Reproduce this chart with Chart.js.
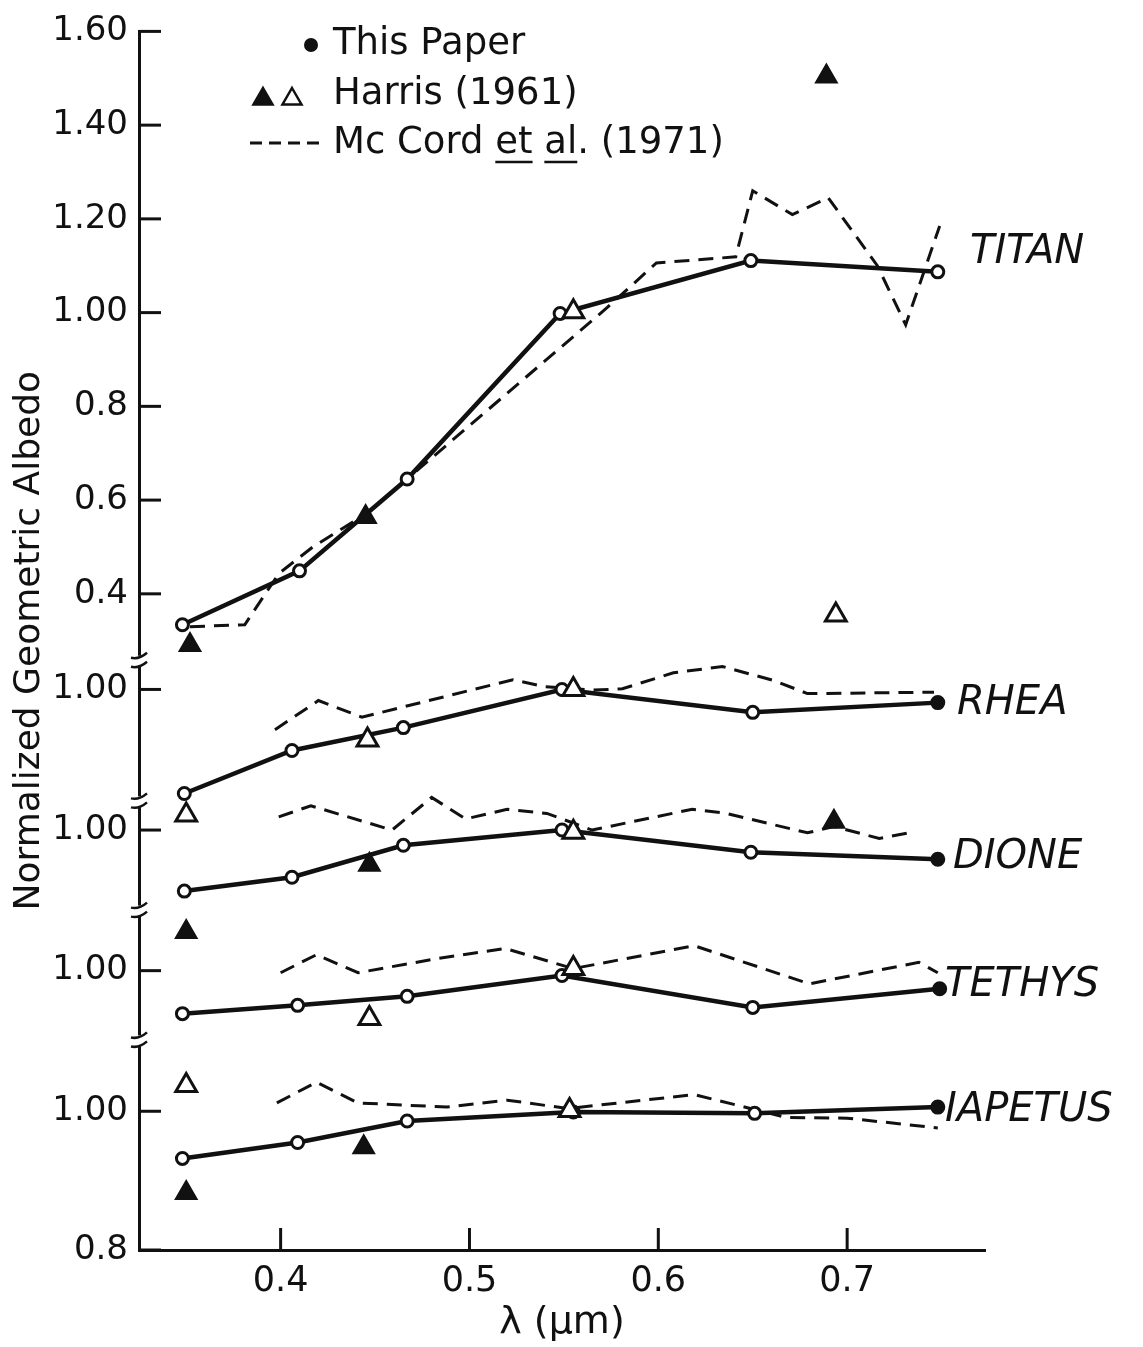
<!DOCTYPE html>
<html>
<head>
<meta charset="utf-8">
<title>Normalized geometric albedo of Saturn's satellites</title>
<script src="https://cdn.jsdelivr.net/npm/chart.js@4.4.1/dist/chart.umd.min.js"></script>
<style>
  html, body { margin: 0; padding: 0; background: #fff; }
</style>
</head>
<body>
<canvas id="albedoChart" width="1143" height="1347"></canvas>
<script>
const FONT = "'DejaVu Sans', sans-serif";
const INK = '#111';

// axis ticks
const xTicks = [0.4, 0.5, 0.6, 0.7];
const titanTicks = [1.6, 1.4, 1.2, 1.0, 0.8, 0.6, 0.4];
const titanTickLabels = ['1.60', '1.40', '1.20', '1.00', '0.8', '0.6', '0.4'];

// [wavelength (µm), normalized geometric albedo]
const titanPaper = [[0.348, 0.334], [0.410, 0.449], [0.467, 0.645], [0.548, 0.998], [0.649, 1.111], [0.748, 1.087]];
const titanMcCord = [[0.352, 0.330], [0.381, 0.334], [0.399, 0.443], [0.417, 0.500], [0.445, 0.570], [0.467, 0.645],
    [0.573, 1.011], [0.599, 1.106], [0.641, 1.119], [0.650, 1.260], [0.671, 1.209], [0.690, 1.245],
    [0.716, 1.100], [0.731, 0.974], [0.749, 1.185]];
const titanHarrisFilled = [[0.352, 0.291], [0.445, 0.564], [0.689, 1.504]];
const titanHarrisOpen = [[0.555, 1.002], [0.694, 0.355]];

const rheaPaper = [[0.349, 0.850], [0.406, 0.912], [0.465, 0.945], [0.549, 1.000], [0.650, 0.967], [0.748, 0.981]];
const rheaMcCord = [[0.397, 0.942], [0.420, 0.984], [0.443, 0.960], [0.523, 1.014], [0.540, 1.004], [0.565, 0.999],
    [0.581, 1.001], [0.608, 1.024], [0.634, 1.033], [0.661, 1.013], [0.679, 0.994], [0.746, 0.996]];
const rheaHarrisFilled = [];
const rheaHarrisOpen = [[0.350, 0.819], [0.446, 0.927], [0.555, 1.000]];

const dionePaper = [[0.349, 0.912], [0.406, 0.932], [0.465, 0.978], [0.549, 1.000], [0.649, 0.968], [0.748, 0.958]];
const dioneMcCord = [[0.399, 1.019], [0.416, 1.035], [0.459, 1.000], [0.480, 1.047], [0.498, 1.016], [0.520, 1.030],
    [0.541, 1.024], [0.565, 1.000], [0.618, 1.030], [0.636, 1.024], [0.679, 0.996], [0.693, 1.005],
    [0.717, 0.988], [0.735, 0.997]];
const dioneHarrisFilled = [[0.350, 0.853], [0.447, 0.950], [0.693, 1.012]];
const dioneHarrisOpen = [[0.555, 0.997]];

const tethysPaper = [[0.348, 0.938], [0.409, 0.950], [0.467, 0.963], [0.549, 0.993], [0.650, 0.947], [0.749, 0.974]];
const tethysMcCord = [[0.400, 0.997], [0.419, 1.023], [0.441, 0.997], [0.482, 1.017], [0.519, 1.032], [0.555, 1.003],
    [0.619, 1.036], [0.680, 0.981], [0.738, 1.012], [0.748, 0.997]];
const tethysHarrisFilled = [];
const tethysHarrisOpen = [[0.447, 0.931], [0.555, 1.003]];

const iapetusPaper = [[0.348, 0.932], [0.409, 0.955], [0.467, 0.986], [0.555, 0.999], [0.651, 0.997], [0.748, 1.006]];
const iapetusMcCord = [[0.398, 1.012], [0.419, 1.042], [0.441, 1.012], [0.488, 1.006], [0.520, 1.016], [0.552, 1.004],
    [0.619, 1.024], [0.668, 0.991], [0.700, 0.990], [0.748, 0.976]];
const iapetusHarrisFilled = [[0.350, 0.882], [0.444, 0.948]];
const iapetusHarrisOpen = [[0.350, 1.037], [0.553, 1.001]];

// lower panels hang under Titan on a stretched scale (1.00 line of each)
const panelBase = { RHEA: 0.196, DIONE: -0.104, TETHYS: -0.404, IAPETUS: -0.704 };
const lowerStretch = 1.48;
const axisBreaks = [0.255, -0.045, -0.278, -0.555];

function toAxis(moon, albedo) {
    if (moon === 'TITAN') return albedo;
    return panelBase[moon] + (albedo - 1) * lowerStretch;
}

const moons = [
    { name: 'TITAN', paper: titanPaper, mccord: titanMcCord, filled: titanHarrisFilled, open: titanHarrisOpen, lx: 970, dy: -19 },
    { name: 'RHEA', paper: rheaPaper, mccord: rheaMcCord, filled: rheaHarrisFilled, open: rheaHarrisOpen, lx: 957, dy: 1 },
    { name: 'DIONE', paper: dionePaper, mccord: dioneMcCord, filled: dioneHarrisFilled, open: dioneHarrisOpen, lx: 953, dy: -2 },
    { name: 'TETHYS', paper: tethysPaper, mccord: tethysMcCord, filled: tethysHarrisFilled, open: tethysHarrisOpen, lx: 945, dy: -3 },
    { name: 'IAPETUS', paper: iapetusPaper, mccord: iapetusMcCord, filled: iapetusHarrisFilled, open: iapetusHarrisOpen, lx: 945, dy: 4 }
];

const yTicks = titanTicks.slice();
const yTickLabels = titanTickLabels.slice();
['RHEA', 'DIONE', 'TETHYS', 'IAPETUS'].forEach(m => { yTicks.push(toAxis(m, 1.0)); yTickLabels.push('1.00'); });
yTicks.push(toAxis('IAPETUS', 0.8));
yTickLabels.push('0.8');

function pts(moon, list) {
    return list.map(([x, a]) => ({ x: x, y: toAxis(moon, a) }));
}

const datasets = [];
moons.forEach(m => {
    datasets.push({
        label: m.name + ' McCord et al. (1971)',
        data: pts(m.name, m.mccord),
        showLine: true,
        borderColor: INK,
        borderWidth: 3,
        borderDash: [15, 9],
        pointRadius: 0,
        order: 3
    });
    datasets.push({
        label: m.name + ' This Paper',
        data: pts(m.name, m.paper),
        showLine: true,
        borderColor: INK,
        borderWidth: 4.5,
        pointRadius: 6,
        pointBorderWidth: 3,
        pointBorderColor: INK,
        pointBackgroundColor: m.paper.map((p, i) => (i === m.paper.length - 1 && m.name !== 'TITAN') ? INK : '#fff'),
        order: 2
    });
    datasets.push({
        label: m.name + ' Harris (1961) open',
        data: pts(m.name, m.open),
        showLine: false,
        pointStyle: 'triangle',
        pointRadius: 12,
        pointBorderWidth: 3,
        pointBorderColor: INK,
        pointBackgroundColor: '#fff',
        order: 1
    });
    datasets.push({
        label: m.name + ' Harris (1961) filled',
        data: pts(m.name, m.filled),
        showLine: false,
        pointStyle: 'triangle',
        pointRadius: 12,
        pointBorderWidth: 2,
        pointBorderColor: INK,
        pointBackgroundColor: INK,
        order: 0
    });
});

function line(ctx, x1, y1, x2, y2) {
    ctx.beginPath();
    ctx.moveTo(x1, y1);
    ctx.lineTo(x2, y2);
    ctx.stroke();
}

function triangle(ctx, x, y, r, filled) {
    ctx.beginPath();
    ctx.moveTo(x, y - r);
    ctx.lineTo(x + r * 0.866, y + r * 0.5);
    ctx.lineTo(x - r * 0.866, y + r * 0.5);
    ctx.closePath();
    ctx.fillStyle = filled ? INK : '#fff';
    ctx.fill();
    ctx.stroke();
}

const extras = {
    id: 'extras',
    beforeDraw(chart) {
        const ctx = chart.ctx;
        ctx.save();
        ctx.fillStyle = '#fff';
        ctx.fillRect(0, 0, chart.width, chart.height);
        ctx.restore();
    },
    afterDraw(chart) {
        const { ctx, chartArea, scales } = chart;
        const x = scales.x, y = scales.y;
        ctx.save();
        ctx.strokeStyle = INK;
        ctx.lineWidth = 3;

        // inward tick marks
        xTicks.forEach(v => {
            const px = x.getPixelForValue(v);
            line(ctx, px, chartArea.bottom, px, chartArea.bottom - 22);
        });
        yTicks.forEach(v => {
            const py = y.getPixelForValue(v);
            line(ctx, chartArea.left, py, chartArea.left + 22, py);
        });

        // axis breaks
        axisBreaks.forEach(v => {
            const py = y.getPixelForValue(v);
            const lx = chartArea.left;
            ctx.fillStyle = '#fff';
            ctx.fillRect(lx - 4, py - 6, 8, 10);
            ctx.lineWidth = 2.5;
            ctx.beginPath();
            ctx.moveTo(lx - 8, py - 4);
            ctx.quadraticCurveTo(lx, py - 2, lx + 8, py - 9);
            ctx.moveTo(lx - 8, py + 5);
            ctx.quadraticCurveTo(lx, py + 7, lx + 8, py);
            ctx.stroke();
            ctx.lineWidth = 3;
        });

        // moon names
        ctx.fillStyle = INK;
        ctx.font = 'italic 40px ' + FONT;
        ctx.textBaseline = 'middle';
        ctx.textAlign = 'left';
        moons.forEach(m => {
            const last = m.paper[m.paper.length - 1];
            const py = y.getPixelForValue(toAxis(m.name, last[1])) + m.dy;
            ctx.fillText(m.name, m.lx, py);
        });

        // legend
        ctx.font = '37px ' + FONT;
        ctx.beginPath();
        ctx.arc(311, 45, 7, 0, Math.PI * 2);
        ctx.fill();
        ctx.fillText('This Paper', 333, 44);

        ctx.lineWidth = 2.5;
        triangle(ctx, 263, 99, 11, true);
        triangle(ctx, 292, 99, 11, false);
        ctx.fillStyle = INK;
        ctx.fillText('Harris (1961)', 333, 94);

        ctx.lineWidth = 3;
        ctx.setLineDash([12, 7]);
        line(ctx, 250, 143, 324, 143);
        ctx.setLineDash([]);
        let tx = 333;
        const parts = [['Mc Cord ', false], ['et', true], [' ', false], ['al', true], ['. (1971)', false]];
        parts.forEach(([t, under]) => {
            const w = ctx.measureText(t).width;
            ctx.fillText(t, tx, 143);
            if (under) {
                ctx.lineWidth = 2.5;
                line(ctx, tx, 162, tx + w, 162);
            }
            tx += w;
        });
        ctx.restore();
    }
};

new Chart(document.getElementById('albedoChart'), {
    type: 'scatter',
    data: { datasets: datasets },
    options: {
        responsive: false,
        animation: false,
        events: [],
        layout: { padding: { top: 28, right: 158, bottom: 0, left: 0 } },
        plugins: { legend: { display: false }, tooltip: { enabled: false } },
        scales: {
            x: {
                type: 'linear',
                min: 0.325,
                max: 0.773,
                afterFit: s => { s.height = 97; },
                afterBuildTicks: s => { s.ticks = xTicks.map(v => ({ value: v })); },
                grid: { display: true, color: 'rgba(0,0,0,0)', drawTicks: false },
                border: { display: true, color: INK, width: 3 },
                ticks: {
                    color: INK,
                    padding: 11,
                    font: { family: FONT, size: 35 },
                    callback: v => v.toFixed(1)
                },
                title: {
                    display: true,
                    text: 'λ (μm)',
                    color: INK,
                    font: { family: FONT, size: 38 },
                    padding: { top: 0, bottom: 1 }
                }
            },
            y: {
                type: 'linear',
                min: -1.0,
                max: 1.6,
                afterFit: s => { s.width = 139; },
                afterBuildTicks: s => { s.ticks = yTicks.map(v => ({ value: v })); },
                grid: { display: true, color: 'rgba(0,0,0,0)', drawTicks: false },
                border: { display: true, color: INK, width: 3 },
                ticks: {
                    color: INK,
                    padding: 11,
                    font: { family: FONT, size: 34 },
                    callback: (v, i) => yTickLabels[i]
                },
                title: {
                    display: true,
                    text: 'Normalized Geometric Albedo',
                    color: INK,
                    font: { family: FONT, size: 36 },
                    padding: { top: 8, bottom: 0 }
                }
            }
        }
    },
    plugins: [extras]
});
</script>
</body>
</html>
